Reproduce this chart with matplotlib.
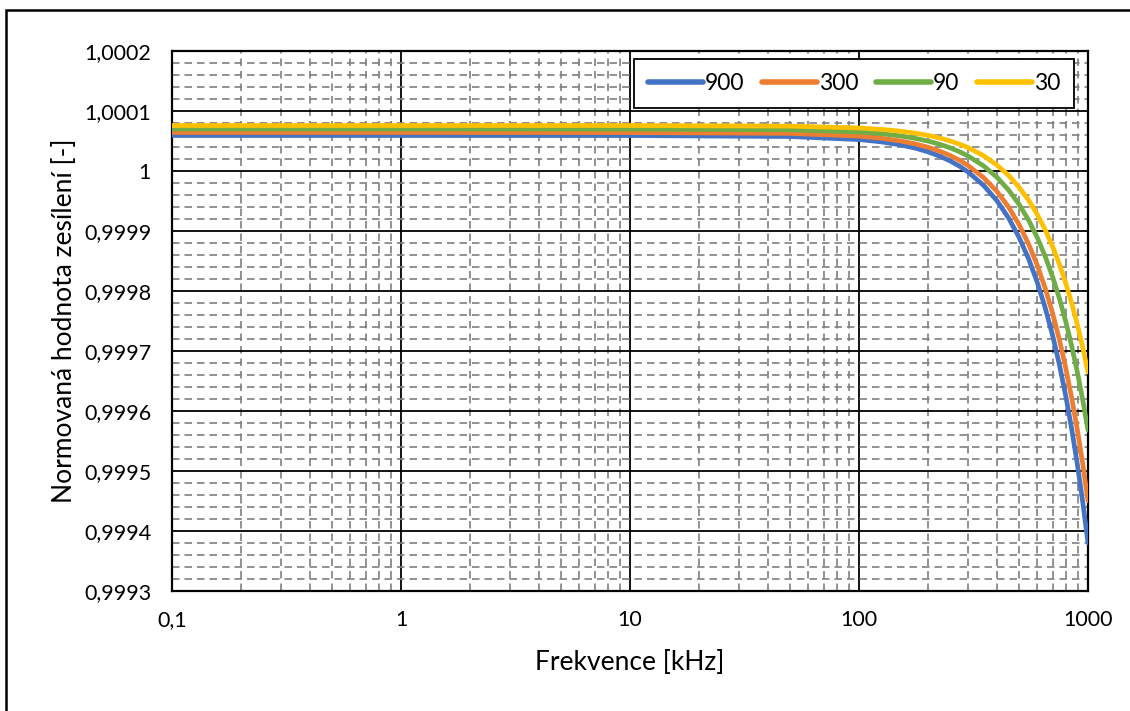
import numpy as np
import matplotlib
matplotlib.use("Agg")
import matplotlib.pyplot as plt
from matplotlib.ticker import FixedLocator, LogLocator, NullFormatter, MultipleLocator
from matplotlib.patches import Rectangle

plt.rcParams['font.family'] = ['Lato', 'DejaVu Sans']

# frequency [kHz]
freq = [0.1, 1, 10, 50, 100, 125, 150, 175, 200, 225, 250, 275, 300, 350, 400, 450,
        500, 550, 600, 650, 700, 750, 800, 850, 900, 950, 1000]

gain_900 = [1.0000592, 1.0000592, 1.0000591, 1.0000575, 1.0000524, 1.0000486, 1.0000439, 1.0000384,
            1.0000320, 1.0000248, 1.0000168, 1.0000079, 0.9999981, 0.9999760, 0.9999506, 0.9999217,
            0.9998894, 0.9998538, 0.9998148, 0.9997723, 0.9997265, 0.9996773, 0.9996246, 0.9995686,
            0.9995092, 0.9994464, 0.9993802]
gain_300 = [1.0000642, 1.0000642, 1.0000641, 1.0000627, 1.0000581, 1.0000546, 1.0000504, 1.0000454,
            1.0000396, 1.0000331, 1.0000258, 1.0000178, 1.0000089, 0.9999890, 0.9999660, 0.9999399,
            0.9999107, 0.9998785, 0.9998432, 0.9998048, 0.9997633, 0.9997188, 0.9996712, 0.9996206,
            0.9995669, 0.9995101, 0.9994502]
gain_90 = [1.0000700, 1.0000700, 1.0000699, 1.0000687, 1.0000650, 1.0000622, 1.0000587, 1.0000546,
           1.0000499, 1.0000446, 1.0000386, 1.0000320, 1.0000248, 1.0000085, 0.9999897, 0.9999683,
           0.9999445, 0.9999181, 0.9998893, 0.9998579, 0.9998240, 0.9997876, 0.9997487, 0.9997073,
           0.9996634, 0.9996169, 0.9995680]
gain_30 = [1.0000758, 1.0000758, 1.0000758, 1.0000748, 1.0000717, 1.0000694, 1.0000666, 1.0000632,
           1.0000594, 1.0000550, 1.0000501, 1.0000447, 1.0000388, 1.0000255, 1.0000100, 0.9999926,
           0.9999730, 0.9999515, 0.9999278, 0.9999022, 0.9998744, 0.9998446, 0.9998128, 0.9997789,
           0.9997429, 0.9997049, 0.9996648]

series_names = ['900', '300', '90', '30']
colors = ['#4472C4', '#ED7D31', '#70AD47', '#FFC000']

x_ticks = [0.1, 1, 10, 100, 1000]
x_labels = ['0,1', '1', '10', '100', '1000']
y_ticks = [0.9993, 0.9994, 0.9995, 0.9996, 0.9997, 0.9998, 0.9999, 1.0, 1.0001, 1.0002]
y_labels = ['0,9993', '0,9994', '0,9995', '0,9996', '0,9997', '0,9998', '0,9999', '1', '1,0001', '1,0002']

fig = plt.figure(figsize=(11.3, 7.11), dpi=100)
ax = fig.add_axes([172/1130, 1 - 591/711, (1088 - 172)/1130, (591 - 51)/711])

for vals, name, c in zip([gain_900, gain_300, gain_90, gain_30], series_names, colors):
    ax.plot(freq, vals, color=c, lw=3.4, label=name, solid_capstyle='round', zorder=3)

ax.set_xscale('log')
ax.set_xlim(0.1, 1000)
ax.set_ylim(0.9993, 1.0002)

ax.xaxis.set_major_locator(FixedLocator(x_ticks))
ax.set_xticklabels(x_labels)
ax.xaxis.set_minor_locator(LogLocator(base=10, subs=np.arange(2, 10)))
ax.xaxis.set_minor_formatter(NullFormatter())
ax.yaxis.set_major_locator(FixedLocator(y_ticks))
ax.set_yticklabels(y_labels)
ax.yaxis.set_minor_locator(MultipleLocator(0.00002))

ax.grid(which='major', color='black', lw=1.3, zorder=1)
ax.grid(which='minor', color='#7f7f7f', lw=1.2, ls=(0, (4.5, 3)), zorder=0)
ax.tick_params(which='both', length=0, labelsize=15.5, colors='#000000')
ax.tick_params(axis='x', pad=14)
ax.tick_params(axis='y', pad=15)
for s in ax.spines.values():
    s.set_linewidth(1.6)
    s.set_color('black')

ax.set_xlabel('Frekvence [kHz]', fontsize=19, labelpad=14)
ax.set_ylabel('Normovaná hodnota zesílení [-]', fontsize=19, labelpad=5)

leg = ax.legend(loc='upper right', ncol=4, fontsize=16.5, frameon=True, fancybox=False,
                bbox_to_anchor=(0.9847, 0.985), borderaxespad=0, handlelength=2.4,
                handletextpad=0.1, columnspacing=0.75, borderpad=0.6)
leg.get_frame().set_edgecolor('black')
leg.get_frame().set_linewidth(1.3)
leg.get_frame().set_alpha(1)
for h in leg.get_lines():
    h.set_linewidth(4)

fig.patches.append(Rectangle((6/1130, -0.05), 1.2, 1 - 10/711 + 0.05, transform=fig.transFigure,
                             fill=False, edgecolor='black', lw=1.8))

fig.savefig('out.png', dpi=100)
